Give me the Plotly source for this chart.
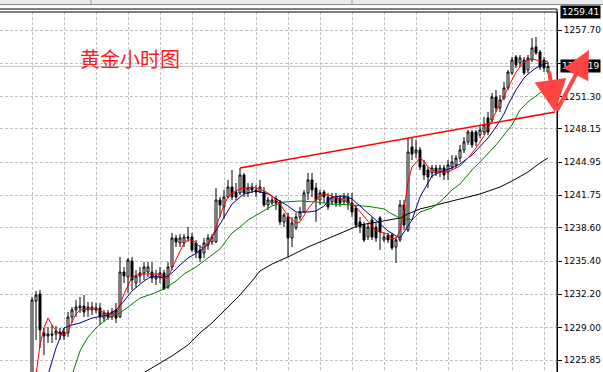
import plotly.graph_objects as go

# ---------------- data ----------------
bar_index = list(range(130))
open_p = [1223.45,1231.55,1232.23,1228.47,1228.18,1228.37,1228.37,1228.56,1228.56,1228.47,
          1230.01,1230.69,1230.88,1231.07,1230.69,1230.69,1230.88,1230.88,1229.91,1230.40,
          1230.01,1230.69,1230.01,1234.35,1233.87,1235.41,1233.29,1233.97,1234.26,1234.35,
          1234.35,1233.68,1233.87,1234.26,1232.90,1234.83,1237.63,1237.15,1237.15,1237.73,
          1237.73,1237.15,1236.48,1236.19,1236.96,1237.25,1237.25,1241.30,1240.63,1241.59,
          1242.55,1242.07,1241.98,1243.71,1241.98,1242.55,1242.27,1242.07,1242.07,1240.82,
          1241.01,1241.40,1241.11,1239.18,1239.66,1237.63,1238.60,1239.66,1240.14,1241.98,
          1243.23,1242.46,1241.30,1242.07,1241.59,1241.11,1241.59,1241.49,1241.11,1241.59,
          1241.01,1240.53,1239.18,1238.89,1237.73,1239.37,1238.69,1239.56,1237.44,1237.92,
          1237.92,1236.76,1237.44,1240.82,1238.41,1246.41,1245.84,1246.13,1244.68,1244.20,
          1243.91,1244.39,1244.00,1244.39,1244.00,1244.48,1244.68,1245.35,1246.13,1246.90,
          1247.86,1247.86,1247.57,1247.86,1249.21,1249.02,1251.24,1250.18,1251.14,1252.11,
          1253.56,1255.10,1254.52,1254.81,1253.85,1254.81,1256.06,1255.58,1254.81,1253.65]
high_p = [1231.94,1232.52,1232.62,1228.95,1229.04,1229.24,1229.14,1228.95,1228.95,1230.49,
          1230.97,1231.65,1231.94,1232.13,1231.46,1231.46,1231.36,1231.36,1230.69,1230.69,
          1230.88,1231.36,1235.80,1234.83,1235.70,1235.80,1234.55,1234.83,1235.32,1235.32,
          1235.32,1234.55,1234.83,1234.55,1235.32,1238.12,1237.92,1238.02,1238.02,1238.69,
          1238.12,1237.44,1236.96,1237.63,1238.02,1238.02,1242.46,1241.59,1242.27,1243.23,
          1244.20,1242.94,1244.39,1243.91,1242.94,1242.94,1242.75,1243.23,1242.55,1241.59,
          1241.59,1241.69,1241.30,1240.05,1240.05,1239.66,1240.05,1240.63,1242.27,1243.91,
          1243.91,1242.94,1242.27,1242.27,1241.98,1241.98,1241.98,1241.78,1241.98,1241.98,
          1241.98,1240.82,1239.66,1239.18,1239.08,1239.66,1239.08,1239.76,1238.12,1238.12,
          1238.12,1237.73,1241.30,1241.30,1247.28,1247.38,1247.09,1246.41,1245.16,1244.48,
          1244.68,1244.68,1244.68,1244.68,1245.16,1245.64,1245.64,1246.61,1247.38,1248.06,
          1248.06,1248.06,1248.44,1249.31,1249.79,1251.63,1251.92,1251.43,1252.69,1253.85,
          1255.10,1255.29,1255.29,1255.10,1255.29,1256.93,1257.03,1255.78,1255.10,1254.62]
low_p = [1222.96,1227.79,1227.02,1226.34,1227.50,1227.50,1227.79,1227.79,1227.79,1228.08,
         1229.43,1230.01,1230.40,1230.01,1230.01,1230.20,1230.40,1229.24,1229.53,1229.72,
         1229.72,1229.43,1229.91,1233.29,1232.33,1232.62,1232.81,1233.29,1233.58,1233.87,
         1233.29,1233.10,1233.29,1232.62,1232.71,1234.55,1236.76,1236.76,1236.76,1237.25,
         1236.28,1235.70,1235.32,1235.70,1236.48,1236.96,1237.15,1239.66,1239.56,1241.49,
         1241.30,1241.30,1241.78,1241.59,1241.59,1241.98,1241.59,1241.98,1240.63,1240.34,
         1240.82,1240.34,1238.89,1238.69,1235.80,1236.76,1238.41,1239.37,1240.05,1241.30,
         1241.59,1239.18,1240.82,1241.01,1240.34,1240.82,1240.63,1240.63,1240.82,1240.34,
         1239.66,1238.60,1238.12,1237.25,1237.44,1237.44,1237.25,1236.48,1237.25,1237.15,
         1236.48,1235.22,1237.25,1238.41,1238.21,1245.16,1245.35,1244.20,1243.23,1242.46,
         1243.42,1243.62,1243.52,1243.23,1243.23,1244.20,1244.39,1244.97,1245.84,1246.61,
         1246.32,1246.51,1247.28,1247.57,1247.57,1248.83,1249.79,1249.79,1250.95,1251.92,
         1253.36,1254.04,1254.13,1253.36,1253.56,1254.62,1255.29,1253.85,1253.65,1253.46]
close_p = [1231.65,1232.13,1228.76,1228.18,1228.37,1228.27,1228.66,1228.37,1228.18,1230.01,
           1230.69,1230.97,1231.07,1230.49,1230.97,1230.97,1230.69,1230.01,1230.40,1230.01,
           1230.49,1229.91,1234.35,1233.97,1235.51,1233.58,1233.97,1234.26,1234.83,1234.83,
           1233.77,1233.97,1234.26,1232.71,1234.83,1237.63,1237.25,1237.63,1237.73,1237.63,
           1236.48,1236.28,1235.70,1237.15,1237.63,1237.73,1241.30,1240.82,1241.59,1242.55,
           1241.59,1241.59,1243.71,1241.98,1242.46,1242.27,1242.07,1242.55,1240.82,1241.30,
           1241.30,1241.01,1239.18,1239.85,1237.63,1239.08,1239.66,1240.14,1241.98,1243.23,
           1242.27,1241.30,1241.98,1241.59,1240.63,1241.59,1241.01,1241.01,1241.59,1241.01,
           1240.14,1238.89,1238.69,1237.44,1238.69,1237.73,1237.63,1238.21,1237.73,1237.44,
           1236.67,1237.44,1240.82,1238.89,1245.93,1245.74,1246.13,1244.48,1243.71,1243.52,
           1244.39,1243.91,1244.39,1243.71,1244.68,1244.97,1245.35,1246.13,1246.90,1247.86,
           1246.61,1246.90,1248.06,1248.54,1247.86,1251.24,1250.18,1250.95,1252.11,1253.65,
           1254.81,1254.33,1255.00,1253.56,1255.00,1255.97,1255.49,1254.13,1254.04,1254.19]

red_idx = [1,2,3,4,5,6,7,8,9,10,11,12,14,16,17,19,21,22,23,24,25,27,32,33,34,35,36,37,38,39,40,
           41,42,43,44,45,46,47,48,49,50,52,55,57,59,60,62,64,66,67,68,69,71,73,75,77,79,81,83,
           85,86,89,90,91,92,93,94,95,97,98,99,101,104,106,107,109,111,113,114,116,117,119,121,
           122,123,125,127,128,129]
red_val = [1224.41,1227.31,1228.95,1229.91,1229.24,1228.66,1228.37,1228.27,1228.56,1229.53,1230.30,
           1230.69,1230.78,1230.78,1230.59,1230.30,1230.30,1231.17,1232.23,1233.10,1233.87,1234.16,
           1234.16,1233.77,1233.77,1234.74,1235.51,1236.38,1237.15,1237.44,1237.44,1237.15,1236.76,
           1236.67,1236.96,1237.63,1238.69,1239.95,1240.82,1241.59,1241.98,1242.36,1242.55,1242.36,
           1241.98,1241.69,1240.91,1239.76,1239.08,1239.18,1239.76,1240.43,1241.40,1241.88,1241.69,
           1241.40,1241.11,1240.63,1239.76,1238.79,1238.31,1238.02,1237.54,1237.63,1238.31,1240.34,
           1243.04,1244.48,1245.35,1245.06,1244.48,1244.00,1244.00,1244.39,1244.58,1245.35,1246.32,
           1247.48,1248.25,1249.79,1250.56,1252.11,1253.65,1254.13,1254.62,1254.91,1254.71,1254.62,
           1254.71]

blue_idx = [4,6,8,10,12,15,19,21,23,25,28,30,33,35,37,39,42,44,47,50,53,56,59,61,64,66,69,71,73,75,
            78,80,82,84,86,89,91,92,95,97,100,102,105,107,110,112,114,116,117,118,119,121,123,124,
            126,128,129]
blue_val = [1224.41,1227.02,1228.95,1229.24,1229.43,1229.91,1230.20,1230.69,1231.55,1232.52,
            1233.48,1233.97,1233.77,1234.26,1235.03,1235.70,1236.38,1237.05,1238.98,1240.91,
            1241.88,1242.17,1241.88,1241.40,1240.72,1240.14,1240.14,1240.24,1240.72,1241.59,
            1241.69,1241.40,1240.72,1239.95,1239.27,1238.31,1237.83,1237.63,1239.37,1241.59,
            1243.62,1244.00,1244.39,1244.77,1245.64,1246.41,1247.28,1248.34,1248.92,1249.60,
            1250.47,1251.92,1253.07,1253.46,1254.04,1254.42,1254.52]

green_idx = [10,12,14,16,19,22,24,27,30,33,36,38,41,43,45,47,50,52,54,57,60,63,67,71,75,80,85,88,
             90,92,95,97,100,102,105,107,110,112,114,116,118,120,122,124,126,128,129]
green_val = [1224.41,1226.73,1228.08,1228.95,1229.91,1230.40,1230.97,1231.84,1232.23,1232.71,
             1233.48,1234.16,1234.83,1235.41,1235.99,1236.57,1238.12,1238.69,1239.37,1240.05,
             1240.72,1241.11,1241.20,1241.11,1240.91,1240.82,1240.63,1240.43,1239.95,1239.56,
             1239.37,1240.14,1240.53,1241.11,1242.27,1242.84,1244.20,1244.97,1245.74,1246.61,
             1247.57,1248.54,1249.99,1250.76,1251.34,1251.92,1252.11]

black_idx = [27,32,35,39,42,45,49,52,55,57,60,64,69,72,75,79,82,85,88,92,94,97,102,107,112,117,
             120,124,127,129]
black_val = [1224.41,1225.57,1226.25,1227.31,1228.47,1229.43,1230.97,1232.13,1233.48,1234.45,
             1235.12,1235.80,1236.76,1237.25,1237.73,1238.41,1238.89,1239.08,1239.27,1239.56,
             1239.95,1240.43,1240.91,1241.40,1241.88,1242.55,1243.13,1244.00,1244.87,1245.35]

trend_idx = [52, 130.75]
trend_val = [1244.39, 1249.79]

tick_vals = [1257.70, 1254.50, 1251.30, 1248.15, 1244.95, 1241.75, 1238.60, 1235.40, 1232.20, 1229.00, 1225.85]
tick_text = ["1257.70", "", "1251.30", "1248.15", "1244.95", "1241.75", "1238.60", "1235.40", "1232.20", "1229.00", "1225.85"]
last_price = 1254.19
top_price = 1259.41
title_text = "黄金小时图"

# ---------------- figure ----------------
W, H = 603, 372
ML, MR, MT, MB = 0, 46, 12, 0
PW, PH = W - ML - MR, H - MT - MB


def px(xp):
    return (xp - ML) / PW


def py(yp):
    return (H - MB - yp) / PH


fig = go.Figure()
fig.add_trace(go.Candlestick(
    x=bar_index, open=open_p, high=high_p, low=low_p, close=close_p,
    increasing=dict(line=dict(color="black", width=1), fillcolor="white"),
    decreasing=dict(line=dict(color="black", width=1), fillcolor="black"),
    whiskerwidth=0, hoverinfo="skip", showlegend=False))

for xs, ys, col in [(black_idx, black_val, "#000000"), (green_idx, green_val, "#008000"),
                    (blue_idx, blue_val, "#000080"), (red_idx, red_val, "#ff0000")]:
    fig.add_trace(go.Scatter(x=xs, y=ys, mode="lines", line=dict(color=col, width=1),
                             hoverinfo="skip", showlegend=False))

fig.add_trace(go.Scatter(x=trend_idx, y=trend_val, mode="lines",
                         line=dict(color="#ff0000", width=1.6), hoverinfo="skip", showlegend=False))

grid = dict(showgrid=True, gridcolor="#c0c0c0", gridwidth=1, griddash="3px,2px", zeroline=False)

fig.update_layout(
    width=W, height=H, margin=dict(l=ML, r=MR, t=MT, b=MB, pad=0),
    paper_bgcolor="white", plot_bgcolor="white", showlegend=False,
    xaxis=dict(range=[-8, 131.25], tick0=0, dtick=8, showticklabels=False, ticks="",
               showline=False, rangeslider=dict(visible=False), fixedrange=True, **grid),
    yaxis=dict(side="right", range=[1224.70, 1259.44], tickmode="array", tickvals=tick_vals,
               ticktext=tick_text, ticks="outside", ticklen=4, tickcolor="black",
               showline=True, linecolor="black", linewidth=1, automargin=False,
               tickfont=dict(family="DejaVu Sans", size=9, color="black"),
               fixedrange=True, **grid),
)

shapes = [
    # current price line
    dict(type="line", xref="paper", x0=0, x1=1, yref="y", y0=last_price, y1=last_price,
         line=dict(color="#c0c0c0", width=1), layer="below"),
    # toolbar band on top
    dict(type="rect", xref="paper", x0=0, x1=W / PW, yref="paper", y0=py(4), y1=py(0),
         fillcolor="#ececec", line=dict(width=0)),
    dict(type="line", xref="paper", x0=0, x1=W / PW, yref="paper", y0=py(4.5), y1=py(4.5),
         line=dict(color="#8a8a8a", width=1.2)),
    dict(type="line", xref="paper", x0=px(91), x1=px(91), yref="paper", y0=py(0), y1=py(4),
         line=dict(color="#9a9a9a", width=1)),
    dict(type="line", xref="paper", x0=px(352), x1=px(352), yref="paper", y0=py(0), y1=py(4),
         line=dict(color="#9a9a9a", width=1)),
    # double frame line on top
    dict(type="line", xref="paper", x0=0, x1=1, yref="paper", y0=py(9), y1=py(9),
         line=dict(color="black", width=1)),
    dict(type="line", xref="paper", x0=0, x1=1, yref="paper", y0=py(12), y1=py(12),
         line=dict(color="black", width=1)),
    dict(type="line", xref="paper", x0=1, x1=1, yref="paper", y0=0, y1=py(9),
         line=dict(color="black", width=1)),
]
fig.update_layout(shapes=shapes)

annotations = [
    dict(text=title_text, xref="paper", yref="paper", x=px(78), y=py(58), xanchor="left",
         yanchor="middle", showarrow=False,
         font=dict(family="Noto Sans CJK SC", size=20, color="#ff1a1a")),
    dict(text=f"{top_price:.2f}", xref="paper", yref="paper", x=px(560), y=py(12.5),
         xanchor="left", yanchor="middle", showarrow=False, bgcolor="black", borderpad=1,
         font=dict(family="DejaVu Sans", size=9, color="white")),
    dict(text=f"{last_price:.2f}", xref="paper", yref="y", x=px(560), y=last_price,
         xanchor="left", yanchor="middle", showarrow=False, bgcolor="black", borderpad=1,
         font=dict(family="DejaVu Sans", size=9, color="white")),
    # hand-drawn red arrows
    dict(text="", xref="paper", yref="paper", x=px(555), y=py(112), ax=-6, ay=-42,
         showarrow=True, arrowhead=2, arrowsize=1.6, arrowwidth=4, arrowcolor="#ff4444",
         standoff=0),
    dict(text="", xref="paper", yref="paper", x=px(589), y=py(50), ax=-33, ay=62,
         showarrow=True, arrowhead=2, arrowsize=1.4, arrowwidth=4, arrowcolor="#ff4444",
         standoff=0),
]
fig.update_layout(annotations=annotations)

fig.write_html("out.html", config={"displayModeBar": False, "staticPlot": True},
               post_script="document.body.style.margin='0';document.body.style.padding='0';")
